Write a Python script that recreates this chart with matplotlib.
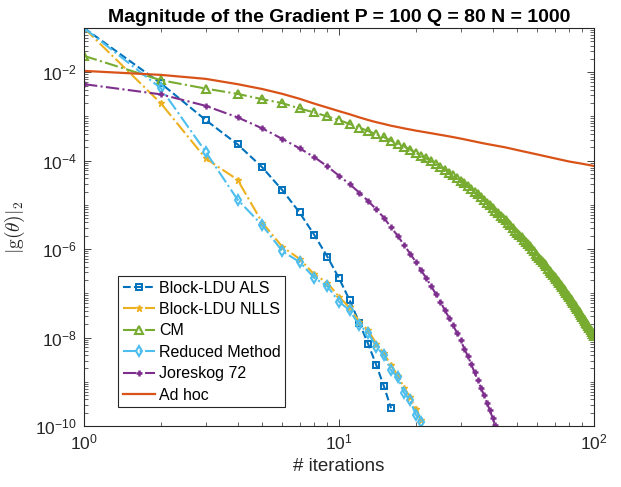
import numpy as np
import matplotlib
matplotlib.use('Agg')
import matplotlib.pyplot as plt
from matplotlib.ticker import FixedLocator, LogLocator, NullFormatter

plt.rcParams['font.family'] = ['Liberation Sans', 'DejaVu Sans']
plt.rcParams['mathtext.fontset'] = 'cm'

# values, stored as log10 of |g|
als_iter = list(range(1, 17))
als_log10 = [-1.00, -2.25, -3.08, -3.63, -4.15, -4.67, -5.17, -5.68, -6.17, -6.66,
             -7.15, -7.66, -8.14, -8.62, -9.10, -9.60]

nlls_iter = list(range(1, 22))
nlls_log10 = [-1.00, -2.70, -3.95, -4.43, -5.40, -5.95, -6.22, -6.57, -6.76, -7.08,
              -7.32, -7.64, -7.83, -8.14, -8.36, -8.63, -8.86, -9.13, -9.35, -9.62, -9.86]

cm_iter = list(range(1, 101))
cm_log10 = [-1.63, -2.18, -2.37, -2.49, -2.61, -2.70, -2.82, -2.91, -3.00, -3.08,
            -3.17, -3.25, -3.33, -3.40, -3.47, -3.55, -3.62, -3.68, -3.75, -3.82,
            -3.89, -3.95, -4.01, -4.08, -4.14, -4.20, -4.27, -4.33, -4.39, -4.45,
            -4.51, -4.57, -4.64, -4.70, -4.76, -4.82, -4.88, -4.95, -5.01, -5.07,
            -5.13, -5.18, -5.24, -5.30, -5.35, -5.41, -5.46, -5.52, -5.58, -5.63,
            -5.68, -5.73, -5.79, -5.84, -5.89, -5.94, -5.99, -6.04, -6.10, -6.15,
            -6.20, -6.25, -6.30, -6.34, -6.39, -6.44, -6.49, -6.54, -6.59, -6.64,
            -6.68, -6.73, -6.77, -6.82, -6.86, -6.91, -6.95, -7.00, -7.04, -7.09,
            -7.13, -7.18, -7.22, -7.27, -7.31, -7.36, -7.40, -7.45, -7.49, -7.54,
            -7.58, -7.62, -7.66, -7.70, -7.74, -7.79, -7.83, -7.87, -7.91, -7.97]

red_iter = list(range(1, 22))
red_log10 = [-1.00, -2.36, -3.80, -4.88, -5.46, -6.05, -6.29, -6.65, -6.84, -7.19,
             -7.38, -7.72, -7.89, -8.21, -8.40, -8.74, -8.90, -9.25, -9.42, -9.74, -9.91]

jor_iter = list(range(1, 42))
jor_log10 = [-2.27, -2.50, -2.76, -3.02, -3.27, -3.51, -3.72, -3.92, -4.13, -4.34,
             -4.53, -4.72, -4.91, -5.10, -5.29, -5.51, -5.70, -5.91, -6.10, -6.29,
             -6.48, -6.66, -6.84, -7.02, -7.19, -7.38, -7.55, -7.72, -7.89, -8.06,
             -8.25, -8.42, -8.60, -8.79, -8.96, -9.13, -9.30, -9.47, -9.64, -9.81, -9.98]

adhoc_iter = [1, 2, 3, 4, 5, 6, 7, 8, 9, 10, 11, 12, 13, 14, 15, 16, 17, 18, 20, 23,
              27, 30, 37, 45, 50, 60, 68, 80, 90, 100]
adhoc_log10 = [-1.97, -2.06, -2.15, -2.27, -2.38, -2.49, -2.60, -2.71, -2.80, -2.88,
               -2.95, -3.02, -3.08, -3.13, -3.17, -3.21, -3.24, -3.27, -3.32, -3.38,
               -3.45, -3.50, -3.61, -3.70, -3.76, -3.86, -3.93, -4.02, -4.07, -4.12]

fig = plt.figure(figsize=(6.21, 4.87), dpi=100)
ax = fig.add_axes([84/621, 1-426/487, 510/621, 398/487])

ax.plot(als_iter, np.power(10.0, als_log10), '--s', color='#0072BD', lw=1.5,
        ms=4, mfc='none', mew=1.4, label='Block-LDU ALS')
ax.plot(nlls_iter, np.power(10.0, nlls_log10), '-.*', color='#EDB120', lw=1.5,
        ms=4.5, mew=1.0, label='Block-LDU NLLS')
ax.plot(cm_iter, np.power(10.0, cm_log10), '-.^', color='#77AC30', lw=1.5,
        ms=5.5, mfc='none', mew=1.5, label='CM')
ax.plot(red_iter, np.power(10.0, red_log10), '-.d', color='#4DBEEE', lw=1.5,
        ms=5, mfc='none', mew=1.5, label='Reduced Method')
ax.plot(jor_iter, np.power(10.0, jor_log10), '-.+', color='#7E2F8E', lw=1.5,
        ms=4.5, mew=1.8, label='Joreskog 72')
ax.plot(adhoc_iter, np.power(10.0, adhoc_log10), '-', color='#D95319', lw=1.6,
        label='Ad hoc')

ax.set_xscale('log')
ax.set_yscale('log')
ax.set_xlim(1, 100)
ax.set_ylim(1e-10, 1e-1)

ax.yaxis.set_major_locator(FixedLocator([1e-10, 1e-8, 1e-6, 1e-4, 1e-2]))
ax.yaxis.set_minor_locator(LogLocator(base=10, subs=np.arange(1, 10), numticks=30))
ax.yaxis.set_minor_formatter(NullFormatter())
ax.xaxis.set_minor_locator(LogLocator(base=10, subs=np.arange(2, 10), numticks=30))
ax.xaxis.set_minor_formatter(NullFormatter())

dark = '#262626'
ax.tick_params(which='both', direction='in', top=True, right=True, colors=dark,
               labelsize=12.5)
ax.tick_params(which='major', length=5, width=0.6, pad=5)
ax.tick_params(which='minor', length=3, width=0.5)
for s in ax.spines.values():
    s.set_color(dark)
    s.set_linewidth(0.8)

ax.set_title('Magnitude of the Gradient P = 100 Q = 80 N = 1000',
             fontsize=14, fontweight='bold', pad=4)
ax.set_xlabel('# iterations', fontsize=13.5, color=dark)
ax.set_ylabel(r'$|\mathrm{g}(\theta)|_2$', fontsize=14, color=dark, labelpad=6)

leg = ax.legend(loc='lower left', bbox_to_anchor=(0.067, 0.047), fontsize=11.5,
                fancybox=False, framealpha=1, edgecolor=dark, handlelength=2.0,
                handletextpad=0.25, borderpad=0.3, labelspacing=0.4, borderaxespad=0)
leg.get_frame().set_linewidth(0.8)

fig.savefig('out.png', dpi=100)
